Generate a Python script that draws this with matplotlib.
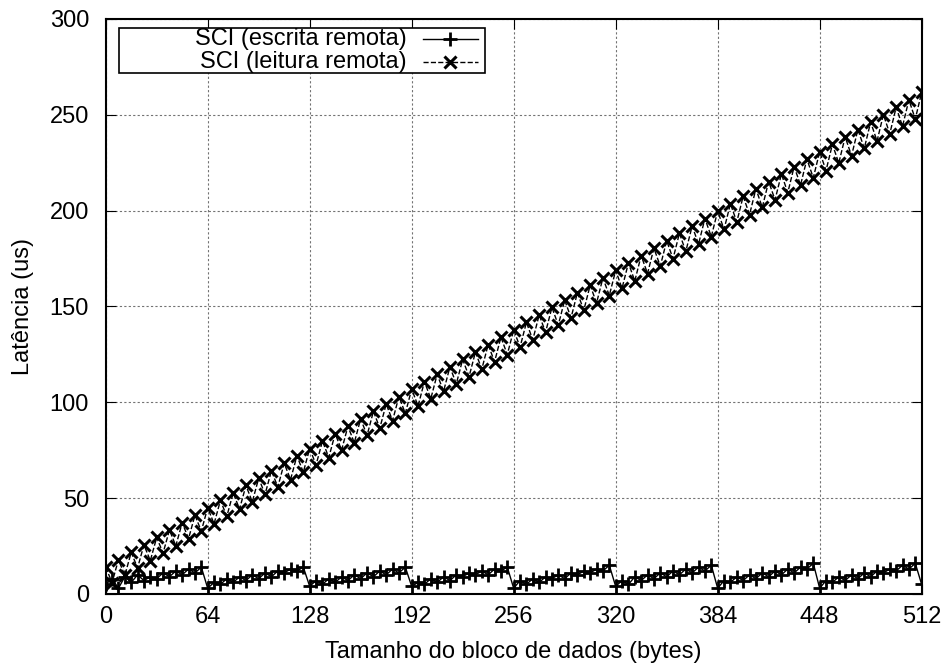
import matplotlib
matplotlib.use("Agg")
import matplotlib.pyplot as plt
from matplotlib.patches import Rectangle
from matplotlib.lines import Line2D

plt.rcParams["font.family"] = ["Liberation Sans", "DejaVu Sans"]

# block size (bytes), sampled every 4 bytes
sizes = list(range(0, 513, 4))

# SCI remote write: sawtooth repeating every 64 bytes
write_lat = [
    5, 8, 3, 9, 6, 10, 7, 9, 8, 11, 9, 12, 10, 13, 11, 14,
    3, 6, 5, 8, 6, 9, 7, 10, 8, 11, 9, 12, 11, 13, 12, 14,
    4, 7, 5, 8, 6, 9, 7, 10, 8, 11, 9, 12, 10, 13, 11, 14,
    4, 6, 5, 8, 6, 9, 7, 10, 9, 11, 10, 12, 10, 13, 12, 14,
    3, 7, 5, 8, 6, 9, 8, 10, 8, 11, 10, 12, 11, 13, 12, 15,
    4, 7, 5, 9, 7, 10, 8, 11, 9, 12, 10, 13, 11, 14, 12, 15,
    3, 7, 6, 9, 7, 10, 8, 11, 9, 12, 10, 13, 11, 14, 13, 16,
    3, 7, 6, 9, 7, 10, 8, 11, 9, 12, 11, 13, 12, 15, 13, 16,
    5,
]

# SCI remote read: grows linearly, zigzag between two levels
read_lat = [
    14.0, 5.9, 17.9, 9.7, 21.7, 13.6, 25.6, 17.4, 29.5, 21.3, 33.4, 25.1,
    37.2, 28.9, 41.1, 32.8, 45.0, 36.6, 48.8, 40.5, 52.7, 44.3, 56.6, 48.1,
    60.4, 52.0, 64.3, 55.8, 68.2, 59.7, 72.1, 63.5, 75.9, 67.3, 79.8, 71.2,
    83.7, 75.0, 87.5, 78.9, 91.4, 82.7, 95.3, 86.5, 99.1, 90.4, 103.0, 94.2,
    106.9, 98.1, 110.8, 101.9, 114.6, 105.7, 118.5, 109.6, 122.4, 113.4,
    126.2, 117.3, 130.1, 121.1, 134.0, 124.9, 137.8, 128.8, 141.7, 132.6,
    145.6, 136.5, 149.5, 140.3, 153.3, 144.1, 157.2, 148.0, 161.1, 151.8,
    164.9, 155.7, 168.8, 159.5, 172.7, 163.3, 176.5, 167.2, 180.4, 171.0,
    184.3, 174.9, 188.2, 178.7, 192.0, 182.5, 195.9, 186.4, 199.8, 190.2,
    203.6, 194.1, 207.5, 197.9, 211.4, 201.7, 215.2, 205.6, 219.1, 209.4,
    223.0, 213.3, 226.9, 217.1, 230.7, 220.9, 234.6, 224.8, 238.5, 228.6,
    242.3, 232.5, 246.2, 236.3, 250.1, 240.1, 253.9, 244.0, 257.8, 247.8,
    261.7,
]

labels = ["SCI (escrita remota)", "SCI (leitura remota)"]
xticks = [0, 64, 128, 192, 256, 320, 384, 448, 512]
FS = 17

fig = plt.figure(figsize=(9.42, 6.68), dpi=100)
ax = fig.add_axes([0.1122, 0.1108, 0.8662, 0.8608])

styles = [dict(ls="-", marker="+", ms=10, mew=2.0),
          dict(ls="--", marker="x", ms=9, mew=2.2)]
ax.plot(sizes, write_lat, color="black", lw=1.0, **styles[0])
ax.plot(sizes, read_lat, color="black", lw=1.0, **styles[1])

ax.set_xlim(0, 512)
ax.set_ylim(0, 300)
ax.set_xticks(xticks)
ax.set_yticks(range(0, 301, 50))
ax.grid(True, color="0.45", ls=(0, (2, 2)), lw=0.8)
ax.tick_params(direction="in", top=True, right=True, length=7,
               labelsize=FS)
ax.tick_params(axis="x", pad=9)
ax.tick_params(axis="y", pad=12)
for s in ax.spines.values():
    s.set_linewidth(1.5)

ax.set_xlabel("Tamanho do bloco de dados (bytes)", fontsize=FS, labelpad=9)
ax.set_ylabel("Latência (us)", fontsize=FS, labelpad=11)

# gnuplot-style key: right-aligned text, sample to its right
ax.add_patch(Rectangle((0.0163, 0.906), 0.4485, 0.0783, transform=ax.transAxes,
                       facecolor="white", edgecolor="black", lw=1.2, zorder=5))
for lab, st, y in zip(labels, styles, (0.9652, 0.9257)):
    ax.text(0.3692, y, lab, transform=ax.transAxes, ha="right", va="center",
            fontsize=FS, zorder=6)
    ax.add_line(Line2D([0.3888, 0.4562], [y, y], transform=ax.transAxes,
                       color="black", lw=1.0, ls=st["ls"], zorder=6))
    ax.add_line(Line2D([0.4225], [y], transform=ax.transAxes, color="black",
                       marker=st["marker"], ms=st["ms"], mew=st["mew"], zorder=6))

fig.savefig("out.png", dpi=100)
